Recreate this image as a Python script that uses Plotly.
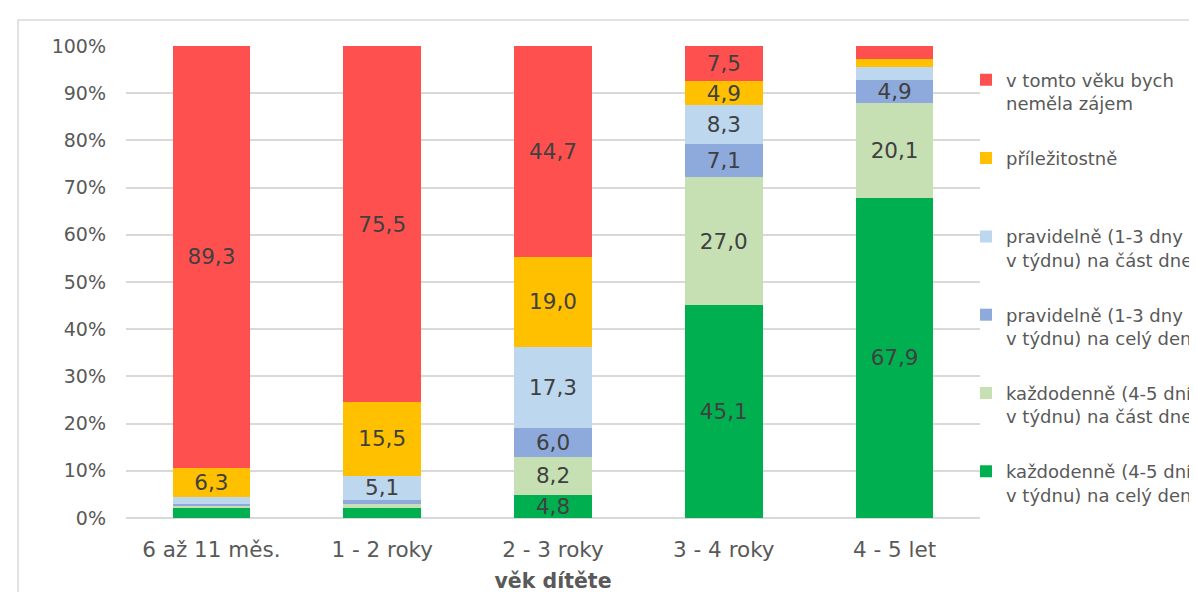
import plotly.graph_objects as go

categories = ["6 až 11 měs.", "1 - 2 roky", "2 - 3 roky", "3 - 4 roky", "4 - 5 let"]

# series (bottom to top of the stack)
denne_cely = [2.3, 2.2, 4.8, 45.1, 67.9]
denne_cast = [0.3, 0.8, 8.2, 27.0, 20.1]
pravidelne_cely = [0.3, 0.9, 6.0, 7.1, 4.9]
pravidelne_cast = [1.5, 5.1, 17.3, 8.3, 2.6]
prilezitostne = [6.3, 15.5, 19.0, 4.9, 1.8]
nezajem = [89.3, 75.5, 44.7, 7.5, 2.7]

series_names = [
    "každodenně (4-5 dní<br>v týdnu) na celý den",
    "každodenně (4-5 dní<br>v týdnu) na část dne",
    "pravidelně (1-3 dny<br>v týdnu) na celý den",
    "pravidelně (1-3 dny<br>v týdnu) na část dne",
    "příležitostně<br> ",
    "v tomto věku bych<br>neměla zájem",
]
series_values = [denne_cely, denne_cast, pravidelne_cely, pravidelne_cast, prilezitostne, nezajem]
colors = ["#00B050", "#C6E0B4", "#8EA9DB", "#BDD7EE", "#FFC000", "#FF5050"]

FONT = "Verdana, DejaVu Sans, sans-serif"
FS = 19
FS_LABEL = 21.5
FS_LEGEND = 18

W, H = 1197, 592
ML, MT, MB = 118, 38, 82
PLOT_RIGHT = 972
gw = W - ML           # paper width (right margin 0)
gh = H - MT - MB

def px_x(p):
    return (p - ML) / gw

def px_y(p):
    return (H - MB - p) / gh

fig = go.Figure()
n = len(series_names)
for i, (name, vals, col) in enumerate(zip(series_names, series_values, colors)):
    texts = [f"{v:.1f}".replace(".", ",") if v >= 4 else "" for v in vals]
    fig.add_trace(go.Bar(
        x=categories, y=vals, name=name, marker_color=col,
        marker_line_width=0,
        text=texts, textposition="inside", insidetextanchor="middle",
        textangle=0, constraintext="none",
        textfont=dict(family=FONT, size=FS_LABEL, color="#404040"),
        legendgroup=f"g{i}", legendrank=n - i,
    ))

fig.update_layout(
    width=W, height=H, autosize=False,
    barmode="stack", barnorm="percent", bargap=0.545,
    plot_bgcolor="white", paper_bgcolor="white",
    margin=dict(l=ML, r=0, t=MT, b=MB, autoexpand=False),
    font=dict(family=FONT, size=FS, color="#595959"),
    uniformtext=dict(minsize=FS_LABEL, mode="show"),
    legend=dict(
        x=px_x(958), xanchor="left", y=0.967, yanchor="top",
        traceorder="grouped", tracegroupgap=28.5, valign="top",
        font=dict(family=FONT, size=FS_LEGEND, color="#595959"),
        bgcolor="rgba(0,0,0,0)",
    ),
    showlegend=True,
    shapes=[dict(type="rect", xref="paper", yref="paper",
                 x0=px_x(10), x1=px_x(1250), y0=px_y(650), y1=px_y(12),
                 line=dict(color="#D9D9D9", width=1.5), fillcolor="rgba(0,0,0,0)",
                 layer="below")],
)
fig.update_yaxes(
    range=[0, 100], dtick=10, ticksuffix="%",
    showgrid=True, gridcolor="#D9D9D9", gridwidth=2,
    zeroline=True, zerolinecolor="#D9D9D9", zerolinewidth=2,
    showline=False, ticks="", ticklabelstandoff=19,
    tickfont=dict(family=FONT, size=FS, color="#595959"),
)
fig.update_xaxes(
    domain=[0, px_x(PLOT_RIGHT)],
    showline=False, ticks="", showgrid=False, ticklabelstandoff=16,
    tickfont=dict(family=FONT, size=FS_LABEL, color="#595959"),
    title=dict(text="<b>věk dítěte</b>", font=dict(family=FONT, size=20.5, color="#595959"), standoff=13),
)

fig.write_html("out.html")
